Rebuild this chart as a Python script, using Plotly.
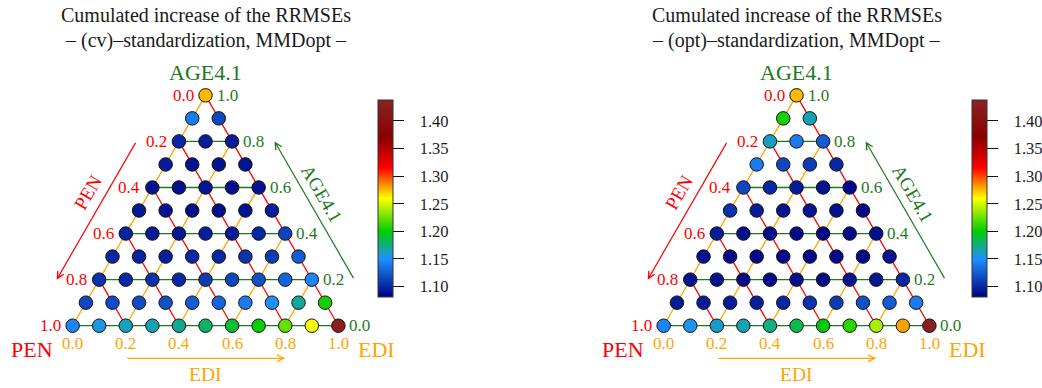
import math
import plotly.graph_objects as go

# ---------------- data ----------------
# Values per row of the simplex lattice (row 0 = AGE4.1 corner, row 10 = AGE4.1 = 0),
# within a row from left (EDI = 0) to right (EDI increasing).
age_levels = [1.0, 0.9, 0.8, 0.7, 0.6, 0.5, 0.4, 0.3, 0.2, 0.1, 0.0]
edi_steps = [0.0, 0.1, 0.2, 0.3, 0.4, 0.5, 0.6, 0.7, 0.8, 0.9, 1.0]

cv_rows = [
    [1.275],
    [1.14, 1.115],
    [1.10, 1.095, 1.095],
    [1.095, 1.09, 1.09, 1.09],
    [1.09, 1.088, 1.09, 1.088, 1.09],
    [1.092, 1.09, 1.088, 1.088, 1.09, 1.095],
    [1.098, 1.094, 1.092, 1.096, 1.095, 1.10, 1.113],
    [1.10, 1.098, 1.096, 1.10, 1.10, 1.105, 1.11, 1.125],
    [1.105, 1.10, 1.105, 1.10, 1.11, 1.115, 1.12, 1.13, 1.145],
    [1.115, 1.118, 1.118, 1.12, 1.125, 1.13, 1.14, 1.15, 1.17, 1.205],
    [1.145, 1.155, 1.163, 1.165, 1.172, 1.18, 1.19, 1.202, 1.223, 1.258, 1.43],
]
opt_rows = [
    [1.275],
    [1.205, 1.165],
    [1.163, 1.14, 1.125],
    [1.14, 1.115, 1.11, 1.10],
    [1.115, 1.10, 1.095, 1.09, 1.085],
    [1.105, 1.095, 1.09, 1.09, 1.088, 1.085],
    [1.095, 1.088, 1.088, 1.086, 1.086, 1.086, 1.088],
    [1.09, 1.086, 1.085, 1.085, 1.085, 1.086, 1.086, 1.09],
    [1.09, 1.088, 1.086, 1.086, 1.088, 1.086, 1.09, 1.092, 1.10],
    [1.095, 1.094, 1.094, 1.096, 1.10, 1.105, 1.11, 1.12, 1.125, 1.14],
    [1.145, 1.153, 1.16, 1.165, 1.175, 1.185, 1.197, 1.21, 1.24, 1.28, 1.43],
]
titles_line2 = ["\u2013 (cv)\u2013standardization, MMDopt \u2013",
                "\u2013 (opt)\u2013standardization, MMDopt \u2013"]
title_line1 = "Cumulated increase of the RRMSEs"
axis_ticks = [0.0, 0.2, 0.4, 0.6, 0.8, 1.0]
grid_levels = [0.0, 0.2, 0.4, 0.6, 0.8]
cbar_ticks = [1.10, 1.15, 1.20, 1.25, 1.30, 1.35, 1.40]
cmin, cmax = 1.081, 1.438

# ---------------- style ----------------
FONT = "Liberation Serif, Times New Roman, serif"
RED = "#ff0000"
GREEN = "#1b7a1b"
ORANGE = "#ffa500"
S3 = math.sqrt(3) / 2


def norm(v):
    return (v - cmin) / (cmax - cmin)


colorscale = [
    [0.0, "#000080"],
    [norm(1.15), "#1e90ff"],
    [norm(1.20), "#00cd00"],
    [norm(1.26), "#ffff00"],
    [norm(1.315), "#ff0000"],
    [norm(1.37), "#8b0000"],
    [1.0, "#8b2323"],
]


def xy(pen, age, edi):
    return edi + age / 2.0, age * S3


fig = go.Figure()

for p, rows in enumerate([cv_rows, opt_rows]):
    xr = "x" if p == 0 else "x2"
    yr = "y" if p == 0 else "y2"
    # grid lines
    for col, kind in [(ORANGE, "edi"), (RED, "pen"), (GREEN, "age")]:
        gx, gy = [], []
        for v in grid_levels:
            if kind == "age":
                a = xy(1 - v, v, 0)
                b = xy(0, v, 1 - v)
            elif kind == "edi":
                a = xy(1 - v, 0, v)
                b = xy(0, 1 - v, v)
            else:
                a = xy(v, 0, 1 - v)
                b = xy(v, 1 - v, 0)
            gx += [a[0], b[0], None]
            gy += [a[1], b[1], None]
        fig.add_trace(go.Scatter(x=gx, y=gy, mode="lines", xaxis=xr, yaxis=yr,
                                 line=dict(color=col, width=1.3),
                                 hoverinfo="skip", showlegend=False))
    # points
    px, py, pc, ht = [], [], [], []
    for r, row in enumerate(rows):
        age = age_levels[r]
        for k, val in enumerate(row):
            edi = edi_steps[k]
            pen = 1 - age - edi
            x, y = xy(pen, age, edi)
            px.append(x)
            py.append(y)
            pc.append(val)
            ht.append(f"PEN={pen:.1f} AGE4.1={age:.1f} EDI={edi:.1f}: {val:.3f}")
    fig.add_trace(go.Scatter(
        x=px, y=py, mode="markers", xaxis=xr, yaxis=yr, text=ht, hoverinfo="text",
        cliponaxis=False, showlegend=False,
        marker=dict(size=13.5, color=pc, coloraxis="coloraxis" if p == 0 else "coloraxis2",
                    line=dict(color="#111111", width=1)),
    ))

    def ann(x, y, text, color, size, **kw):
        fig.add_annotation(x=x, y=y, xref=xr, yref=yr, text=text, showarrow=False,
                           font=dict(family=FONT, size=size, color=color), **kw)

    # tick labels
    for t in axis_ticks:
        x, y = xy(t, 1 - t, 0)      # PEN ticks on left edge
        ann(x, y, f"{t:.1f}", RED, 17, xanchor="right", xshift=-10)
        x, y = xy(0, t, 1 - t)      # AGE ticks on right edge
        ann(x, y, f"{t:.1f}", GREEN, 17, xanchor="left", xshift=9)
        x, y = xy(1 - t, 0, t)      # EDI ticks along bottom
        ann(x, y, f"{t:.1f}", ORANGE, 17, yshift=-18)

    # corner titles
    x, y = xy(0, 1, 0)
    ann(x, y, "AGE4.1", GREEN, 22, yshift=23)
    x, y = xy(1, 0, 0)
    ann(x, y, "PEN", RED, 22, xshift=-41, yshift=-24)
    x, y = xy(0, 0, 1)
    ann(x, y, "EDI", ORANGE, 22, xshift=38, yshift=-24)

    # side arrows (edges shifted outward)
    off = 0.16
    a0 = xy(0.2, 0.8, 0); a1 = xy(0.8, 0.2, 0)
    fig.add_annotation(x=a1[0] - off, y=a1[1], ax=a0[0] - off, ay=a0[1], xref=xr, yref=yr,
                       axref=xr, ayref=yr, showarrow=True, arrowhead=5, arrowsize=1.1,
                       arrowwidth=1.2, arrowcolor=RED, text="")
    ann((a0[0] + a1[0]) / 2 - off - 0.0327, (a0[1] + a1[1]) / 2 + 0.0677, "PEN", RED, 19,
        textangle=-60)
    b0 = xy(0, 0.2, 0.8); b1 = xy(0, 0.8, 0.2)
    fig.add_annotation(x=b1[0] + off, y=b1[1], ax=b0[0] + off, ay=b0[1], xref=xr, yref=yr,
                       axref=xr, ayref=yr, showarrow=True, arrowhead=5, arrowsize=1.1,
                       arrowwidth=1.2, arrowcolor=GREEN, text="")
    ann((b0[0] + b1[0]) / 2 + off + 0.0263, (b0[1] + b1[1]) / 2 + 0.0628, "AGE4.1", GREEN, 19,
        textangle=60)
    c0 = xy(0.8, 0, 0.2); c1 = xy(0.2, 0, 0.8)
    yoff = 0.1226
    fig.add_annotation(x=c1[0], y=c1[1] - yoff, ax=c0[0], ay=c0[1] - yoff, xref=xr, yref=yr,
                       axref=xr, ayref=yr, showarrow=True, arrowhead=5, arrowsize=1.1,
                       arrowwidth=1.2, arrowcolor=ORANGE, text="")
    ann(0.5, -0.183, "EDI", ORANGE, 19.5)

    # titles
    ann(0.5, 1.168, title_line1, "#1a1a1a", 20)
    ann(0.5, 1.074, titles_line2[p], "#1a1a1a", 20)

cbar_common = dict(
    thickness=15, len=197, lenmode="pixels", y=1 - 198.5 / 388, yanchor="middle",
    xanchor="left", xpad=0, ypad=0, outlinewidth=1, outlinecolor="#333333",
    ticks="outside", ticklen=11, tickwidth=1, tickcolor="#111111",
    tickvals=cbar_ticks, ticktext=["\u00a0\u00a0\u00a0" + f"{v:.2f}" for v in cbar_ticks],
    tickfont=dict(family=FONT, size=16.5, color="#1a1a1a"),
)

fig.update_layout(
    width=1042, height=388,
    margin=dict(l=0, r=0, t=0, b=0),
    paper_bgcolor="white", plot_bgcolor="white",
    showlegend=False,
    coloraxis=dict(colorscale=colorscale, cmin=cmin, cmax=cmax,
                   colorbar=dict(x=378.3 / 1042, **cbar_common)),
    coloraxis2=dict(colorscale=colorscale, cmin=cmin, cmax=cmax,
                    colorbar=dict(x=971.7 / 1042, **cbar_common)),
    xaxis=dict(domain=[0, 0.5], range=[-0.2733, 1.6853], visible=False, fixedrange=True),
    yaxis=dict(domain=[0, 1], range=[-0.2342, 1.2244], visible=False, fixedrange=True),
    xaxis2=dict(domain=[0.5, 1], range=[-0.5387, 1.4199], visible=False, fixedrange=True),
    yaxis2=dict(domain=[0, 1], range=[-0.2342, 1.2244], visible=False, fixedrange=True),
)

fig.write_html("out.html", config={"displayModeBar": False},
               post_script="document.body.style.margin='0px';")
